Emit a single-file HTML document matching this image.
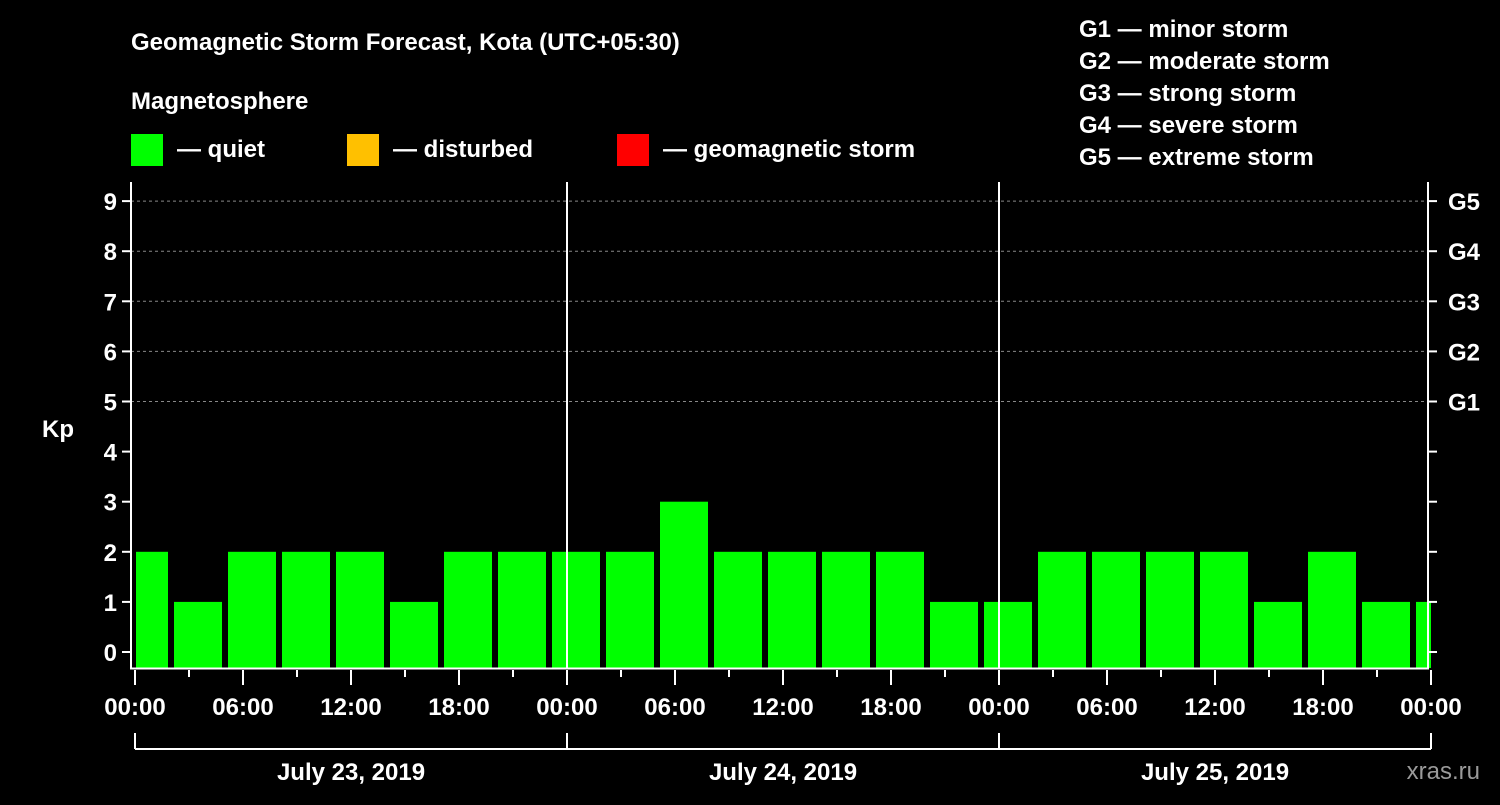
<!DOCTYPE html>
<html><head><meta charset="utf-8"><style>
body{margin:0;background:#000;width:1500px;height:800px;overflow:hidden}
svg text{font-family:"Liberation Sans",Arial,sans-serif;font-weight:bold;fill:#fff}
</style></head><body>
<svg id="c" width="1500" height="800">
<text x="131" y="50" font-size="24">Geomagnetic Storm Forecast, Kota (UTC+05:30)</text>
<text x="131" y="109" font-size="24">Magnetosphere</text>
<rect x="131" y="134" width="32" height="32" fill="#00ff00"/>
<text x="177" y="157" font-size="24">— quiet</text>
<rect x="347" y="134" width="32" height="32" fill="#ffc000"/>
<text x="393" y="157" font-size="24">— disturbed</text>
<rect x="617" y="134" width="32" height="32" fill="#ff0000"/>
<text x="663" y="157" font-size="24">— geomagnetic storm</text>
<g font-size="24">
<text x="1079" y="37">G1 — minor storm</text>
<text x="1079" y="69">G2 — moderate storm</text>
<text x="1079" y="101">G3 — strong storm</text>
<text x="1079" y="133">G4 — severe storm</text>
<text x="1079" y="165">G5 — extreme storm</text>
</g>
<text x="42" y="437" font-size="24">Kp</text>
<text x="1480" y="779" font-size="24" text-anchor="end" fill="#999" style="fill:#9a9a9a;font-weight:normal">xras.ru</text>
<g id="plot"></g>
</svg>
<script>
const values=[2,1,2,2,2,1,2,2,2,2,3,2,2,2,2,1,1,2,2,2,2,1,2,1,1];
const yTicks=[0,1,2,3,4,5,6,7,8,9];
const gLabels=["G1","G2","G3","G4","G5"];
const xLabels=["00:00","06:00","12:00","18:00","00:00","06:00","12:00","18:00","00:00","06:00","12:00","18:00","00:00"];
const days=["July 23, 2019","July 24, 2019","July 25, 2019"];
const X0=135,HOUR=18,FIRST=2,END=72*HOUR+X0;
const x=h=>X0+h*HOUR;
const y=v=>652-v*50.1;
const g=document.getElementById('plot');
const NS='http://www.w3.org/2000/svg';
function mk(t,a,p){const e=document.createElementNS(NS,t);for(const k in a)e.setAttribute(k,a[k]);(p||g).appendChild(e);return e;}
// grid
yTicks.forEach(v=>{if(v>=5){const l=mk('line',{x1:131,x2:1428,y1:y(v),y2:y(v),stroke:'#888','stroke-dasharray':'3,3','stroke-width':1});

}});
// bars
values.forEach((v,i)=>{let h0=i===0?0:FIRST+(i-1)*3,h1=FIRST+i*3;if(h1>72)h1=72;
let x0=x(h0)+(i===0?1:3),x1=x(h1)-3;if(h1===72)x1=x(72);
const r=mk('rect',{x:x0,y:y(v),width:x1-x0,height:668-y(v),fill:'#00ff00'});

});
// frame
const fr=mk('path',{d:'M131,182V668.5H1428V182',stroke:'#fff','stroke-width':2,fill:'none'});


[24,48].forEach(h=>{const l=mk('line',{x1:x(h),x2:x(h),y1:182,y2:668,stroke:'#fff','stroke-width':2});

});
// y ticks
yTicks.forEach(v=>{mk('line',{x1:122,x2:131,y1:y(v),y2:y(v),stroke:'#fff','stroke-width':2});
mk('line',{x1:1428,x2:1437,y1:y(v),y2:y(v),stroke:'#fff','stroke-width':2});
const t=mk('text',{x:117,y:y(v)+9,'font-size':24,'text-anchor':'end'});t.textContent=v;

});
gLabels.forEach((s,i)=>{const t=mk('text',{x:1448,y:y(5+i)+9,'font-size':24});t.textContent=s;

});
// x ticks
for(let h=0;h<=72;h+=3){const maj=h%6===0;mk('line',{x1:x(h),x2:x(h),y1:670,y2:maj?685:677,stroke:'#fff','stroke-width':2});}
xLabels.forEach((s,i)=>{const t=mk('text',{x:x(i*6),y:715,'font-size':24,'text-anchor':'middle'});t.textContent=s;

});
mk('line',{x1:x(0),x2:x(72),y1:749,y2:749,stroke:'#fff','stroke-width':2});
[0,24,48,72].forEach(h=>mk('line',{x1:x(h),x2:x(h),y1:733,y2:749,stroke:'#fff','stroke-width':2}));
days.forEach((s,i)=>{const t=mk('text',{x:x(i*24+12),y:780,'font-size':24,'text-anchor':'middle'});t.textContent=s;

});
</script>
</body></html>
